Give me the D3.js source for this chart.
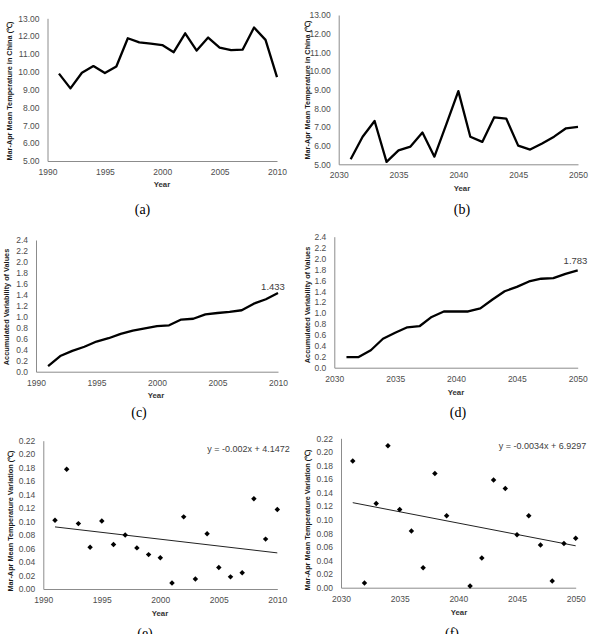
<!DOCTYPE html>
<html>
<head>
<meta charset="utf-8">
<script src="https://cdn.jsdelivr.net/npm/d3@7"></script>
<style>
  body { margin: 0; background: #fff; }
  svg { display: block; }
</style>
</head>
<body>
<svg id="fig" width="592" height="634"></svg>
<script>
// years on the x axis
const pastYears = [1991, 1992, 1993, 1994, 1995, 1996, 1997, 1998, 1999, 2000,
  2001, 2002, 2003, 2004, 2005, 2006, 2007, 2008, 2009, 2010];
const futureYears = [2031, 2032, 2033, 2034, 2035, 2036, 2037, 2038, 2039, 2040,
  2041, 2042, 2043, 2044, 2045, 2046, 2047, 2048, 2049, 2050];

// (a) / (b) Mar-Apr mean temperature
const tempPast = [9.9, 9.07, 9.95, 10.32, 9.93, 10.3, 11.88, 11.65, 11.58, 11.5,
  11.1, 12.16, 11.19, 11.92, 11.36, 11.22, 11.24, 12.48, 11.79, 9.7];
const tempFuture = [5.27, 6.48, 7.32, 5.13, 5.75, 5.95, 6.7, 5.41, 7.15, 8.92,
  6.48, 6.2, 7.52, 7.45, 6.0, 5.79, 6.12, 6.48, 6.93, 7.0];

// (c) / (d) accumulated variability
const accumPast = [0.10, 0.285, 0.38, 0.455, 0.55, 0.61, 0.69, 0.75, 0.79, 0.83,
  0.845, 0.95, 0.965, 1.045, 1.07, 1.09, 1.12, 1.24, 1.32, 1.433];
const accumFuture = [0.195, 0.195, 0.32, 0.53, 0.64, 0.74, 0.76, 0.93, 1.03, 1.03,
  1.03, 1.087, 1.25, 1.40, 1.48, 1.58, 1.63, 1.64, 1.72, 1.783];

// (e) / (f) temperature variation (2040 has no marker)
const varPast = [0.102, 0.1775, 0.097, 0.062, 0.101, 0.066, 0.080, 0.061, 0.051, 0.0465,
  0.009, 0.107, 0.015, 0.082, 0.032, 0.018, 0.024, 0.134, 0.074, 0.118];
const varFuture = [0.1866, 0.0069, 0.124, 0.209, 0.115, 0.0835, 0.0295, 0.168, 0.106, null,
  0.0025, 0.0437, 0.1586, 0.146, 0.078, 0.106, 0.063, 0.0098, 0.065, 0.0727];

// tick values
const tempTicks = [5, 6, 7, 8, 9, 10, 11, 12, 13];
const accumTicks = [0, 0.2, 0.4, 0.6, 0.8, 1.0, 1.2, 1.4, 1.6, 1.8, 2.0, 2.2, 2.4];
const varTicks = [0, 0.02, 0.04, 0.06, 0.08, 0.10, 0.12, 0.14, 0.16, 0.18, 0.20, 0.22];
const pastYearTicks = [1990, 1995, 2000, 2005, 2010];
const futureYearTicks = [2030, 2035, 2040, 2045, 2050];

const tempTitle = "Mar-Apr Mean Temperature in China (\u2103)";
const accumTitle = "Accumulated Variability of Values";
const varTitle = "Mar-Apr Mean Temperature Variation (\u2103)";

const svg = d3.select("#fig");
const sans = "'Liberation Sans', Arial, sans-serif";

const panels = [
  { l: 47.5, r: 277, t: 18.3, b: 161, years: pastYears, vals: tempPast, kind: "line",
    xTicks: pastYearTicks, yTicks: tempTicks, fmt: d3.format(".2f"),
    title: tempTitle, titleX: 9, titleY: 91, yearX: 162, yearY: 184,
    cap: "(a)", capX: 142.5, capY: 214 },
  { l: 338.7, r: 578, t: 15, b: 164.3, years: futureYears, vals: tempFuture, kind: "line",
    xTicks: futureYearTicks, yTicks: tempTicks, fmt: d3.format(".2f"),
    title: tempTitle, titleX: 307.7, titleY: 90, yearX: 462, yearY: 188,
    cap: "(b)", capX: 462, capY: 214 },
  { l: 36, r: 278, t: 240, b: 371.7, years: pastYears, vals: accumPast, kind: "line",
    xTicks: pastYearTicks, yTicks: accumTicks, fmt: d3.format(".1f"),
    title: accumTitle, titleX: 6.7, titleY: 307, yearX: 156, yearY: 395,
    cap: "(c)", capX: 139, capY: 417, note: "1.433", noteX: 273, noteY: 286 },
  { l: 334.3, r: 577.7, t: 236.7, b: 367.7, years: futureYears, vals: accumFuture, kind: "line",
    xTicks: futureYearTicks, yTicks: accumTicks, fmt: d3.format(".1f"),
    title: accumTitle, titleX: 307, titleY: 305, yearX: 456, yearY: 392,
    cap: "(d)", capX: 458, capY: 417, note: "1.783", noteX: 575.5, noteY: 260 },
  { l: 43.3, r: 277.3, t: 440.7, b: 589, years: pastYears, vals: varPast, kind: "scatter",
    xTicks: pastYearTicks, yTicks: varTicks, fmt: d3.format(".2f"),
    title: varTitle, titleX: 10, titleY: 521, yearX: 160, yearY: 613,
    cap: "(e)", capX: 145, capY: 638, note: "y = -0.002x + 4.1472", noteX: 248.5, noteY: 449 },
  { l: 341, r: 575.7, t: 438.3, b: 587.7, years: futureYears, vals: varFuture, kind: "scatter",
    xTicks: futureYearTicks, yTicks: varTicks, fmt: d3.format(".2f"),
    title: varTitle, titleX: 307.7, titleY: 520, yearX: 459, yearY: 612,
    cap: "(f)", capX: 452, capY: 638, note: "y = -0.0034x + 6.9297", noteX: 542.5, noteY: 445.5 }
];

panels.forEach((p) => {
  const x = d3.scaleLinear()
    .domain([p.xTicks[0], p.xTicks[p.xTicks.length - 1]])
    .range([p.l, p.r]);
  const y = d3.scaleLinear()
    .domain([p.yTicks[0], p.yTicks[p.yTicks.length - 1]])
    .range([p.b, p.t]);

  const g = svg.append("g");

  const yAxis = g.append("g")
    .attr("transform", `translate(${p.l},0)`)
    .call(d3.axisLeft(y).tickValues(p.yTicks).tickFormat(p.fmt)
      .tickSize(0).tickSizeOuter(0).tickPadding(8));
  const xAxis = g.append("g")
    .attr("transform", `translate(0,${p.b})`)
    .call(d3.axisBottom(x).tickValues(p.xTicks).tickFormat(d3.format("d"))
      .tickSize(0).tickSizeOuter(0).tickPadding(8));

  [xAxis, yAxis].forEach((a) => {
    a.select(".domain").attr("stroke", "#8c8c8c").attr("stroke-width", 1);
    a.selectAll("text")
      .attr("font-family", sans)
      .attr("font-size", 8.5)
      .attr("fill", "#4d4d4d");
  });

  const pts = p.years.map((yr, i) => ({ year: yr, v: p.vals[i] }))
    .filter((d) => d.v != null);

  if (p.kind === "line") {
    g.append("path")
      .datum(pts)
      .attr("fill", "none")
      .attr("stroke", "#000")
      .attr("stroke-width", 2.3)
      .attr("stroke-linejoin", "round")
      .attr("d", d3.line().x((d) => x(d.year)).y((d) => y(d.v)));
  } else {
    // least squares trend over the plotted points
    const mx = d3.mean(pts, (d) => d.year);
    const my = d3.mean(pts, (d) => d.v);
    const slope = d3.sum(pts, (d) => (d.year - mx) * (d.v - my)) /
      d3.sum(pts, (d) => (d.year - mx) ** 2);
    const ends = [p.years[0], p.years[p.years.length - 1]]
      .map((yr) => ({ year: yr, v: my + slope * (yr - mx) }));
    g.append("path")
      .datum(ends)
      .attr("fill", "none")
      .attr("stroke", "#222")
      .attr("stroke-width", 1)
      .attr("d", d3.line().x((d) => x(d.year)).y((d) => y(d.v)));

    g.selectAll("path.marker")
      .data(pts)
      .join("path")
      .attr("class", "marker")
      .attr("d", d3.symbol(d3.symbolSquare, 15))
      .attr("transform", (d) => `translate(${x(d.year)},${y(d.v)}) rotate(45)`)
      .attr("fill", "#000");
  }

  if (p.note) {
    g.append("text")
      .attr("x", p.noteX)
      .attr("y", p.noteY)
      .attr("text-anchor", "middle")
      .attr("dominant-baseline", "central")
      .attr("font-family", sans)
      .attr("font-size", p.kind === "line" ? 9.5 : 9)
      .attr("fill", "#404040")
      .text(p.note);
  }

  g.append("text")
    .attr("transform", `translate(${p.titleX},${p.titleY}) rotate(-90)`)
    .attr("text-anchor", "middle")
    .attr("dominant-baseline", "central")
    .attr("font-family", sans)
    .attr("font-weight", "bold")
    .attr("font-size", 7.3)
    .attr("fill", "#1a1a1a")
    .text(p.title);

  g.append("text")
    .attr("x", p.yearX)
    .attr("y", p.yearY)
    .attr("text-anchor", "middle")
    .attr("dominant-baseline", "central")
    .attr("font-family", sans)
    .attr("font-weight", "bold")
    .attr("font-size", 7.8)
    .attr("fill", "#333")
    .text("Year");

  g.append("text")
    .attr("x", p.capX)
    .attr("y", p.capY)
    .attr("text-anchor", "middle")
    .attr("font-family", "'Liberation Serif', 'Times New Roman', serif")
    .attr("font-size", 14)
    .attr("fill", "#000")
    .text(p.cap);
});
</script>
</body>
</html>
